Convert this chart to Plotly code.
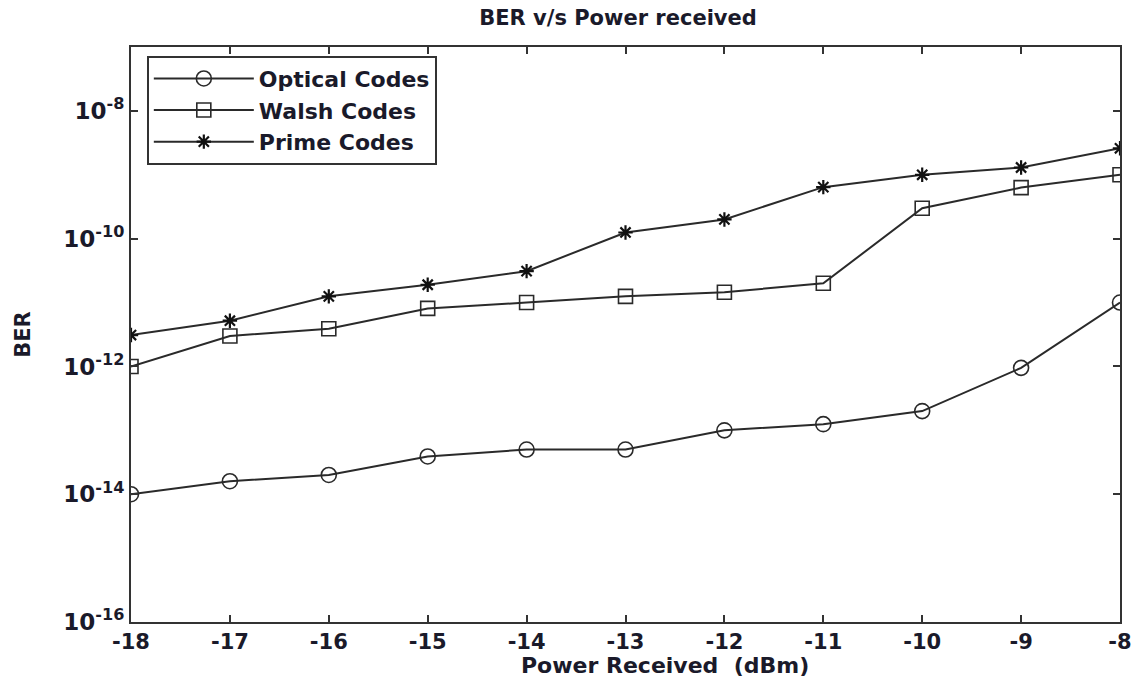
import plotly.graph_objects as go

power = [-18, -17, -16, -15, -14, -13, -12, -11, -10, -9, -8]
optical_ber = [1.0e-14, 1.6e-14, 2.0e-14, 3.9e-14, 5.0e-14, 5.0e-14, 1.0e-13, 1.25e-13, 2.0e-13, 9.5e-13, 1.0e-11]
walsh_ber = [1.0e-12, 3.0e-12, 3.9e-12, 8.1e-12, 1.0e-11, 1.25e-11, 1.45e-11, 2.0e-11, 3.0e-10, 6.3e-10, 1.0e-9]
prime_ber = [3.1e-12, 5.2e-12, 1.25e-11, 1.9e-11, 3.1e-11, 1.25e-10, 2.0e-10, 6.4e-10, 1.0e-9, 1.3e-9, 2.6e-9]

ytick_vals = [1e-16, 1e-14, 1e-12, 1e-10, 1e-8]
ytick_text = ["10<sup>-16</sup>", "10<sup>-14</sup>", "10<sup>-12</sup>", "10<sup>-10</sup>", "10<sup>-8</sup>"]
xtick_vals = [-18, -17, -16, -15, -14, -13, -12, -11, -10, -9, -8]
xtick_text = ["-18", "-17", "-16", "-15", "-14", "-13", "-12", "-11", "-10", "-9", "-8"]

FONT = "DejaVu Sans, Liberation Sans, Arial, sans-serif"
TXT = "#1a1a2a"

fig = go.Figure()
line_style = dict(color="#2a2a2a", width=2)
fig.add_trace(go.Scatter(x=power, y=optical_ber, mode="lines+markers", name="Optical Codes",
                         line=line_style,
                         marker=dict(symbol="circle-open", size=15, color="#2a2a2a", line=dict(width=1.6))))
fig.add_trace(go.Scatter(x=power, y=walsh_ber, mode="lines+markers", name="Walsh Codes",
                         line=line_style,
                         marker=dict(symbol="square-open", size=14, color="#2a2a2a", line=dict(width=1.6))))
fig.add_trace(go.Scatter(x=power, y=prime_ber, mode="lines+markers", name="Prime Codes",
                         line=line_style,
                         marker=dict(symbol="asterisk-open", size=12, color="#111111", line=dict(width=2.2))))

fig.update_layout(
    width=1134, height=687,
    margin=dict(l=131, r=14, t=47, b=65, autoexpand=False),
    paper_bgcolor="white", plot_bgcolor="white",
    title=dict(text="BER v/s Power received", x=0.545, xanchor="center", y=0.974, yanchor="middle",
               font=dict(family=FONT, size=21, color=TXT, weight="bold")),
    showlegend=True,
    legend=dict(x=0.016, y=0.985, xanchor="left", yanchor="top",
                bgcolor="white", bordercolor="#333333", borderwidth=2,
                font=dict(family=FONT, size=22, color=TXT, weight="bold"),
                itemwidth=100, tracegroupgap=0),
    xaxis=dict(range=[-18, -8], tickvals=xtick_vals, ticktext=xtick_text, ticks="inside", ticklen=7, tickwidth=2,
               tickcolor="#333333", showline=True, linecolor="#333333", linewidth=2, mirror="ticks",
               showgrid=False, zeroline=False, automargin=False,
               tickfont=dict(family=FONT, size=21, color=TXT, weight="bold")),
    yaxis=dict(type="log", range=[-16, -7], tickvals=ytick_vals, ticktext=ytick_text,
               ticks="inside", ticklen=7, tickwidth=2, tickcolor="#333333",
               showline=True, linecolor="#333333", linewidth=2, mirror="ticks",
               showgrid=False, zeroline=False, automargin=False,
               tickfont=dict(family=FONT, size=23, color=TXT, weight="bold"),
               title=dict(text="BER", font=dict(family=FONT, size=21, color=TXT, weight="bold"), standoff=27)),
    annotations=[dict(text="Power Received  (dBm)", xref="paper", yref="paper", x=0.54, y=-0.05,
                      xanchor="center", yanchor="top", showarrow=False,
                      font=dict(family=FONT, size=22, color=TXT, weight="bold"))],
)

fig.write_html("out.html")
